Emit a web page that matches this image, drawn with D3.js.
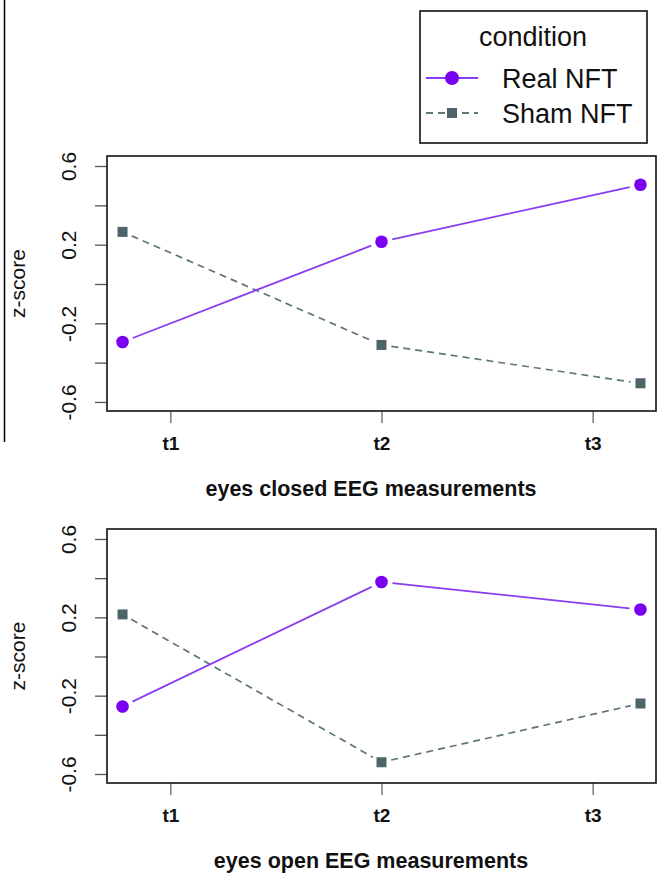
<!DOCTYPE html>
<html>
<head>
<meta charset="utf-8">
<style>
  body { margin: 0; background: #fff; }
  text { font-family: "Liberation Sans", Arial, sans-serif; }
</style>
</head>
<body>
<script src="https://cdn.jsdelivr.net/npm/d3@7"></script>
<script>
// data
var times = ["t1", "t2", "t3"];
var closedReal = [-0.295, 0.215, 0.505];
var closedSham = [0.265, -0.31, -0.505];
var openReal = [-0.255, 0.38, 0.24];
var openSham = [0.215, -0.54, -0.24];
var yTicks = [-0.6, -0.4, -0.2, 0, 0.2, 0.4, 0.6];
var yLabels = [-0.6, -0.2, 0.2, 0.6];

var W = 659, H = 877;
var realCol = "#7a00f2", realLine = "#8a3cf0";
var shamCol = "#4d6468", shamLine = "#5f7676";

var svg = d3.select("body").append("svg")
    .attr("width", W).attr("height", H);

// stray panel border on the left
svg.append("line")
    .attr("x1", 4.5).attr("x2", 4.5).attr("y1", 0).attr("y2", 442)
    .attr("stroke", "#000").attr("stroke-width", 1.5);

var left = 107, right = 656;

// points sit nearer the frame than the axis ticks do
var xPts = d3.scalePoint().domain(times).range([left, right]).padding(0.06);
var xAx = d3.scalePoint().domain(times).range([left, right]).padding(0.3);
var fmt = d => d3.format(".1f")(d).replace("\u2212", "-");

function segs(vals, x, y, gap) {
  var out = [];
  for (var i = 0; i < vals.length - 1; i++) {
    var x1 = x(times[i]), y1 = y(vals[i]), x2 = x(times[i+1]), y2 = y(vals[i+1]);
    var dx = x2 - x1, dy = y2 - y1, len = Math.sqrt(dx*dx + dy*dy);
    out.push({x1: x1 + dx/len*gap, y1: y1 + dy/len*gap, x2: x2 - dx/len*gap, y2: y2 - dy/len*gap});
  }
  return out;
}

function panel(top, bottom, real, sham, title) {
  var y = d3.scaleLinear().domain([-0.646, 0.651]).range([bottom, top]);
  var g = svg.append("g");

  // y axis
  var ya = g.append("g").attr("transform", "translate(" + left + ",0)")
      .call(d3.axisLeft(y).tickValues(yTicks).tickSize(12).tickPadding(0)
        .tickFormat(d => yLabels.some(v => Math.abs(v - d) < 1e-9) ? fmt(d) : ""));
  ya.select(".domain").remove();
  ya.selectAll(".tick line").attr("stroke", "#555").attr("stroke-width", 1.3);
  ya.selectAll(".tick text")
      .attr("transform", "rotate(-90)")
      .attr("x", 0).attr("y", -31)
      .attr("text-anchor", "middle").attr("dy", 0)
      .attr("font-size", 21).attr("fill", "#111")
      .attr("font-family", "Liberation Sans, Arial, sans-serif");

  // x axis
  var xa = g.append("g").attr("transform", "translate(0," + bottom + ")")
      .call(d3.axisBottom(xAx).tickSize(12).tickPadding(14));
  xa.select(".domain").remove();
  xa.selectAll(".tick line").attr("stroke", "#666").attr("stroke-width", 1.3);
  xa.selectAll(".tick text")
      .attr("font-size", 19).attr("font-weight", "bold").attr("fill", "#111")
      .attr("font-family", "Liberation Sans, Arial, sans-serif");

  // frame
  g.append("rect")
      .attr("x", left).attr("y", top)
      .attr("width", right - left).attr("height", bottom - top)
      .attr("fill", "none").attr("stroke", "#111").attr("stroke-width", 1.6);

  // sham
  g.selectAll(".sl").data(segs(sham, xPts, y, 10)).join("line")
      .attr("x1", d => d.x1).attr("y1", d => d.y1)
      .attr("x2", d => d.x2).attr("y2", d => d.y2)
      .attr("stroke", shamLine).attr("stroke-width", 1.7)
      .attr("stroke-dasharray", "7,5");
  g.selectAll(".sp").data(sham).join("rect")
      .attr("x", (d, i) => xPts(times[i]) - 5)
      .attr("y", d => y(d) - 5)
      .attr("width", 10).attr("height", 10)
      .attr("fill", shamCol);

  // real
  g.selectAll(".rl").data(segs(real, xPts, y, 11)).join("line")
      .attr("x1", d => d.x1).attr("y1", d => d.y1)
      .attr("x2", d => d.x2).attr("y2", d => d.y2)
      .attr("stroke", realLine).attr("stroke-width", 1.8);
  g.selectAll(".rp").data(real).join("circle")
      .attr("cx", (d, i) => xPts(times[i]))
      .attr("cy", d => y(d))
      .attr("r", 6.3)
      .attr("fill", realCol);

  // labels
  g.append("text")
      .attr("transform", "translate(25," + ((top + bottom) / 2) + ") rotate(-90)")
      .attr("text-anchor", "middle")
      .attr("font-size", 21).attr("fill", "#111")
      .text("z-score");
  g.append("text")
      .attr("x", 371).attr("y", bottom + 85)
      .attr("text-anchor", "middle")
      .attr("font-size", 21.5).attr("font-weight", "bold").attr("fill", "#111")
      .text(title);
}

panel(156, 411, closedReal, closedSham, "eyes closed EEG measurements");
panel(529, 783, openReal, openSham, "eyes open EEG measurements");

// legend
var lg = svg.append("g");
lg.append("rect")
    .attr("x", 420).attr("y", 11).attr("width", 227).attr("height", 132)
    .attr("fill", "#fff").attr("stroke", "#111").attr("stroke-width", 1.6);
lg.append("text")
    .attr("x", 533).attr("y", 46).attr("text-anchor", "middle")
    .attr("font-size", 27).attr("fill", "#111").text("condition");

var legItems = ["Real NFT", "Sham NFT"];
legItems.forEach(function(name, i) {
  var yy = 78 + i * 35;
  var isReal = i === 0;
  lg.append("line")
      .attr("x1", 426).attr("x2", 478).attr("y1", yy).attr("y2", yy)
      .attr("stroke", isReal ? realLine : shamLine).attr("stroke-width", 1.8)
      .attr("stroke-dasharray", isReal ? null : "7,5");
  if (isReal) {
    lg.append("circle").attr("cx", 452).attr("cy", yy).attr("r", 7).attr("fill", realCol);
  } else {
    lg.append("rect").attr("x", 447).attr("y", yy - 5).attr("width", 10).attr("height", 10).attr("fill", shamCol);
  }
  lg.append("text")
      .attr("x", 502).attr("y", yy + 10)
      .attr("font-size", 27).attr("fill", "#111").text(name);
});
</script>
</body>
</html>
